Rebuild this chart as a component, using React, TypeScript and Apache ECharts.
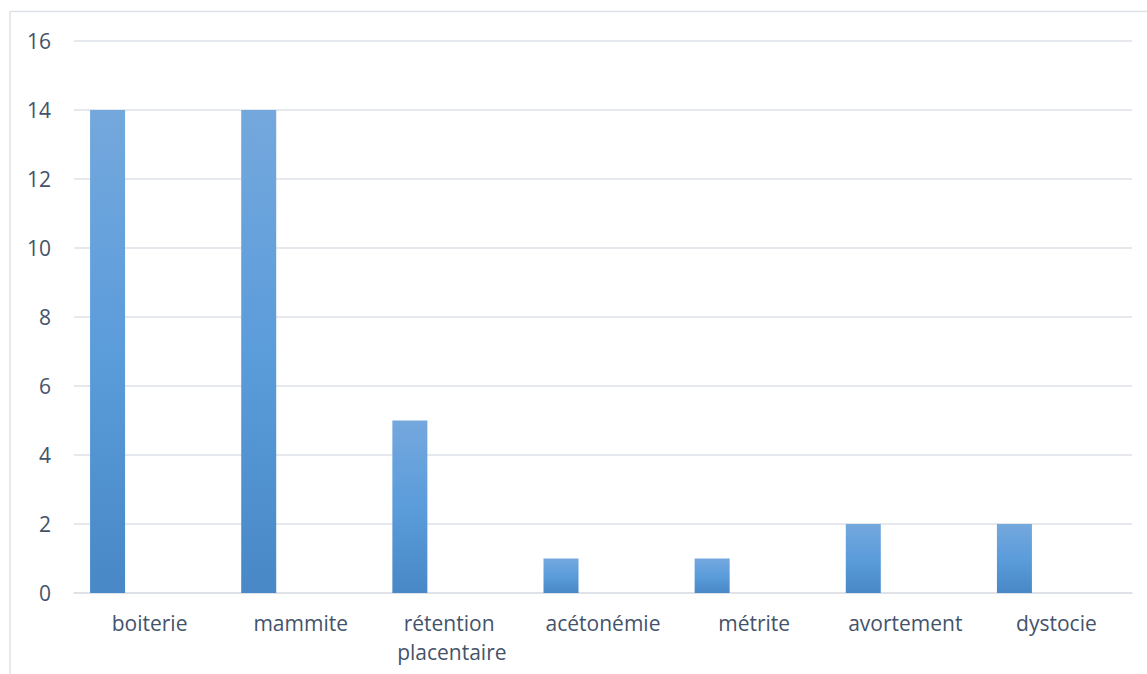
import React, { useEffect, useRef } from "react";
import * as echarts from "echarts";

// Nombre de cas par pathologie
const categories = [
  "boiterie",
  "mammite",
  "rétention placentaire",
  "acétonémie",
  "métrite",
  "avortement",
  "dystocie",
];
const cases = [14, 14, 5, 1, 1, 2, 2];
// Empty companion series: keeps each bar in the left part of its category slot
const emptySeries = categories.map(() => null);
const yTicks = { min: 0, max: 16, interval: 2 };

const textColor = "#44536a";
const gridColor = "#dce0e6";

export default function App() {
  const ref = useRef<HTMLDivElement>(null);

  useEffect(() => {
    if (!ref.current) return;
    const chart = echarts.init(ref.current, null, { renderer: "svg" });
    const barGradient = new echarts.graphic.LinearGradient(0, 0, 0, 1, [
      { offset: 0, color: "#74a8dd" },
      { offset: 0.5, color: "#5b9cdb" },
      { offset: 1, color: "#4888c7" },
    ]);
    chart.setOption({
      animation: false,
      backgroundColor: "#ffffff",
      grid: { left: 74, right: 15, top: 41, bottom: 81 },
      graphic: [
        {
          type: "rect",
          silent: true,
          shape: { x: 10, y: 11.5, width: 1200, height: 700 },
          style: { fill: "none", stroke: "#dde1e6", lineWidth: 1.5 },
        },
      ],
      xAxis: {
        type: "category",
        data: categories,
        axisLine: { show: true, lineStyle: { color: gridColor, width: 1.5 } },
        axisTick: { show: false },
        axisLabel: {
          color: textColor,
          fontFamily: "Open Sans",
          fontSize: 21,
          lineHeight: 29,
          margin: 15,
          width: 135,
          overflow: "break",
          interval: 0,
        },
      },
      yAxis: {
        type: "value",
        min: yTicks.min,
        max: yTicks.max,
        interval: yTicks.interval,
        axisLine: { show: false },
        axisTick: { show: false },
        splitLine: { lineStyle: { color: gridColor, width: 1.5 } },
        axisLabel: {
          color: textColor,
          fontFamily: "Open Sans",
          fontSize: 21,
          margin: 23,
        },
      },
      series: [
        {
          type: "bar",
          data: cases,
          barWidth: 35,
          barGap: "140%",
          itemStyle: { color: barGradient },
        },
        {
          type: "bar",
          data: emptySeries,
          barWidth: 35,
        },
      ],
    });
    return () => chart.dispose();
  }, []);

  return (
    <div
      ref={ref}
      style={{ position: "fixed", left: 0, top: 0, width: 1147, height: 674 }}
    />
  );
}
